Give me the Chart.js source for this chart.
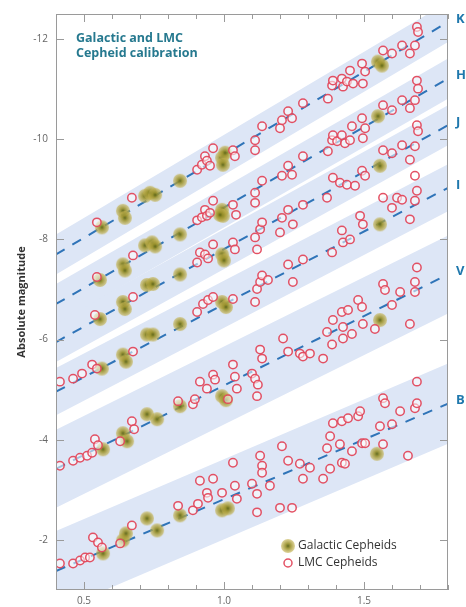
<!DOCTYPE html>
<html><head><meta charset="utf-8">
<script src="https://cdn.jsdelivr.net/npm/chart.js@4.4.1/dist/chart.umd.min.js"></script>
<style>html,body{margin:0;padding:0;background:#fff}#wrap{width:466px;height:607px}</style>
</head><body><div id="wrap"><canvas id="c" width="466" height="607"></canvas></div>
<script>
// ---- axis ranges / ticks ----
const xRange = [0.4, 1.8];
const yRange = [-12.5, -1.0];
const xMajorTicks = [0.5, 1.0, 1.5];
const xMinorTicks = [0.4,0.5,0.6,0.7,0.8,0.9,1.0,1.1,1.2,1.3,1.4,1.5,1.6,1.7,1.8];
const yTicks = [-12, -10, -8, -6, -4, -2];

// ---- bands: fitted relation at logP 0.4 and 1.8, and band half-width (mag) ----
const bandNames = ['K','H','J','I','V','B'];
const bandStartMag = [-7.70, -6.71, -5.95, -4.96, -3.42, -1.38];
const bandEndMag   = [-12.34, -11.21, -10.28, -9.03, -7.30, -4.72];
const bandHalfWidth = [0.40, 0.40, 0.40, 0.47, 0.78, 0.80];

// ---- Galactic Cepheids [logP, mag] ----
const galK = [[0.564,-8.24],[0.639,-8.57],[0.646,-8.43],[0.718,-8.87],[0.736,-8.93],[0.754,-8.89],[0.843,-9.17],[0.993,-9.63],[1.004,-9.73],[0.996,-9.49],[1.55,-11.55],[1.564,-11.47]];
const galH = [[0.557,-7.19],[0.639,-7.50],[0.646,-7.38],[0.718,-7.88],[0.743,-7.94],[0.754,-7.86],[0.843,-8.10],[0.993,-8.59],[0.996,-8.47],[0.986,-8.49],[1.55,-10.46]];
const galJ = [[0.557,-6.41],[0.639,-6.75],[0.646,-6.61],[0.725,-7.09],[0.746,-7.11],[0.843,-7.30],[0.993,-7.70],[1.0,-7.58],[1.557,-9.47]];
const galI = [[0.564,-5.42],[0.639,-5.70],[0.65,-5.56],[0.725,-6.10],[0.746,-6.10],[0.843,-6.31],[0.993,-6.75],[1.007,-6.65],[1.557,-8.30]];
const galV = [[0.568,-3.81],[0.639,-4.13],[0.654,-3.97],[0.725,-4.51],[0.761,-4.41],[0.843,-4.67],[0.993,-4.87],[1.007,-4.79],[1.557,-6.39]];
const galB = [[0.568,-1.73],[0.639,-1.99],[0.65,-2.13],[0.725,-2.43],[0.761,-2.19],[0.843,-2.49],[0.993,-2.59],[1.014,-2.63],[1.546,-3.72]];

// ---- LMC Cepheids [logP, mag] ----
const lmcK = [[0.546,-8.34],[0.671,-8.83],[0.904,-9.39],[0.921,-9.49],[0.932,-9.66],[0.939,-9.57],[0.961,-9.82],[0.95,-9.47],[1.032,-9.78],[1.039,-9.66],[1.111,-9.98],[1.111,-9.78],[1.136,-10.26],[1.20,-10.22],[1.207,-10.38],[1.229,-10.56],[1.243,-10.42],[1.282,-10.72],[1.371,-10.81],[1.386,-11.07],[1.389,-11.17],[1.421,-11.21],[1.425,-11.05],[1.439,-11.15],[1.45,-11.37],[1.461,-11.11],[1.493,-11.51],[1.496,-11.11],[1.504,-11.35],[1.568,-11.77],[1.60,-11.71],[1.636,-11.87],[1.664,-11.71],[1.682,-11.87],[1.689,-12.24],[1.693,-12.14]];
const lmcH = [[0.546,-7.25],[0.675,-7.68],[0.904,-8.38],[0.921,-8.44],[0.932,-8.59],[0.939,-8.47],[0.961,-8.77],[0.95,-8.53],[1.032,-8.69],[1.043,-8.49],[1.111,-8.93],[1.111,-8.73],[1.136,-9.17],[1.207,-9.27],[1.229,-9.47],[1.243,-9.29],[1.282,-9.66],[1.371,-9.76],[1.386,-9.98],[1.389,-10.08],[1.404,-9.96],[1.421,-10.08],[1.432,-9.92],[1.45,-9.98],[1.457,-10.26],[1.493,-10.42],[1.504,-10.22],[1.496,-10.02],[1.568,-10.68],[1.60,-10.58],[1.636,-10.78],[1.664,-10.62],[1.682,-10.78],[1.689,-11.17],[1.693,-11.01]];
const lmcJ = [[0.539,-6.49],[0.675,-6.85],[0.904,-7.54],[0.914,-7.74],[0.932,-7.70],[0.943,-7.62],[0.961,-7.90],[1.032,-7.94],[1.039,-7.80],[1.111,-8.04],[1.118,-7.80],[1.129,-8.20],[1.136,-8.34],[1.20,-8.14],[1.207,-8.43],[1.229,-8.59],[1.246,-8.30],[1.282,-8.69],[1.368,-8.83],[1.389,-9.23],[1.414,-9.13],[1.439,-9.09],[1.468,-9.07],[1.493,-9.37],[1.504,-9.27],[1.568,-9.78],[1.60,-9.72],[1.636,-9.88],[1.664,-9.59],[1.682,-9.86],[1.689,-10.28],[1.693,-10.16]];
const lmcI = [[0.414,-5.16],[0.461,-5.22],[0.493,-5.32],[0.529,-5.50],[0.546,-5.42],[0.675,-5.76],[0.904,-6.55],[0.925,-6.71],[0.943,-6.79],[0.961,-6.85],[1.032,-6.81],[1.111,-6.75],[1.118,-7.01],[1.129,-7.15],[1.136,-7.28],[1.157,-7.19],[1.229,-7.50],[1.246,-7.15],[1.282,-7.60],[1.386,-7.74],[1.425,-7.94],[1.421,-8.18],[1.45,-8.00],[1.486,-8.47],[1.496,-8.30],[1.568,-8.83],[1.60,-8.63],[1.618,-8.83],[1.636,-8.79],[1.664,-8.40],[1.682,-8.77],[1.682,-9.27],[1.689,-8.97]];
const lmcV = [[0.414,-3.48],[0.461,-3.58],[0.486,-3.64],[0.511,-3.68],[0.529,-3.74],[0.539,-4.01],[0.55,-3.89],[0.629,-3.97],[0.671,-4.37],[0.679,-4.21],[0.836,-4.77],[0.889,-4.71],[0.896,-4.81],[0.914,-5.16],[0.939,-5.02],[0.961,-5.30],[0.968,-5.20],[1.014,-4.81],[1.046,-5.02],[1.032,-5.50],[1.039,-5.26],[1.10,-5.32],[1.111,-5.22],[1.121,-5.10],[1.118,-4.87],[1.129,-5.80],[1.136,-5.62],[1.211,-6.02],[1.229,-5.76],[1.271,-5.72],[1.282,-5.66],[1.307,-5.72],[1.354,-5.62],[1.368,-6.15],[1.389,-6.39],[1.421,-6.55],[1.443,-6.59],[1.479,-6.79],[1.493,-6.65],[1.425,-6.25],[1.457,-6.11],[1.386,-5.90],[1.425,-6.02],[1.496,-6.31],[1.539,-6.21],[1.568,-7.11],[1.575,-6.99],[1.60,-6.69],[1.629,-6.95],[1.664,-6.31],[1.689,-7.44],[1.682,-7.15],[1.682,-6.95]];
const lmcB = [[0.414,-1.53],[0.461,-1.53],[0.486,-1.59],[0.504,-1.65],[0.521,-1.65],[0.532,-2.05],[0.55,-1.95],[0.564,-1.85],[0.629,-1.93],[0.671,-2.29],[0.836,-2.68],[0.889,-2.59],[0.907,-2.72],[0.914,-3.18],[0.939,-2.94],[0.943,-2.84],[0.961,-3.22],[0.993,-2.94],[1.032,-3.54],[1.039,-3.08],[1.046,-2.82],[1.10,-3.12],[1.118,-2.92],[1.118,-2.55],[1.129,-3.68],[1.136,-3.48],[1.136,-3.34],[1.164,-3.08],[1.207,-3.87],[1.229,-3.58],[1.20,-2.64],[1.243,-2.64],[1.271,-3.52],[1.307,-3.44],[1.282,-3.22],[1.354,-3.22],[1.379,-3.42],[1.368,-3.83],[1.379,-4.07],[1.389,-4.33],[1.421,-4.37],[1.443,-4.43],[1.479,-4.47],[1.486,-4.57],[1.414,-3.91],[1.421,-3.54],[1.432,-3.52],[1.457,-3.77],[1.493,-3.93],[1.504,-3.93],[1.557,-4.27],[1.568,-4.83],[1.575,-4.73],[1.568,-3.91],[1.60,-4.31],[1.629,-4.57],[1.657,-3.68],[1.682,-4.63],[1.689,-4.73],[1.689,-5.16]];

const galactic = [galK, galH, galJ, galI, galV, galB];
const lmc = [lmcK, lmcH, lmcJ, lmcI, lmcV, lmcB];

// ---- styles ----
const FONT = '"Open Sans", "Noto Sans", sans-serif';
const bandColor = '#dde6f6';
const lineColor = '#2f74b8';
const labelColor = '#1f78ad';
const titleColor = '#26798f';
const lmcColor = 'rgba(226,72,92,0.95)';

function makeGalacticMarker(r){
  const s = r*2+2, c = document.createElement('canvas');
  c.width = s; c.height = s;
  const g = c.getContext('2d'), m = s/2;
  const grd = g.createRadialGradient(m,m,0,m,m,r);
  grd.addColorStop(0,'rgba(90,98,22,0.95)');
  grd.addColorStop(0.35,'rgba(152,144,42,0.9)');
  grd.addColorStop(1,'rgba(198,180,84,0.6)');
  g.fillStyle = grd; g.beginPath(); g.arc(m,m,r,0,Math.PI*2); g.fill();
  return c;
}
const galMarker = makeGalacticMarker(7);

const toPts = arr => arr.map(p => ({x:p[0], y:p[1]}));

const datasets = [];
lmc.forEach((arr,i) => datasets.push({
  type:'scatter', label:'LMC '+bandNames[i], data: toPts(arr), order:0,
  pointStyle:'circle', pointRadius:4.2, pointBorderWidth:1.5,
  pointBorderColor: lmcColor, pointBackgroundColor:'rgba(255,255,255,0.55)'
}));
galactic.forEach((arr,i) => datasets.push({
  type:'scatter', label:'Galactic '+bandNames[i], data: toPts(arr), order:1,
  pointStyle: galMarker, pointRadius:7
}));
bandNames.forEach((n,i) => datasets.push({
  type:'line', label:'fit '+n, order:2,
  data:[{x:xRange[0], y:bandStartMag[i]},{x:xRange[1], y:bandEndMag[i]}],
  borderColor: lineColor, borderWidth:2, borderDash:[10,9], pointRadius:0, fill:false
}));
bandNames.forEach((n,i) => {
  const hw = bandHalfWidth[i];
  datasets.push({
    type:'line', label:'band hi '+n, order:3,
    data:[{x:xRange[0], y:bandStartMag[i]-hw},{x:xRange[1], y:bandEndMag[i]-hw}],
    borderWidth:0, pointRadius:0, fill:'+1', backgroundColor: bandColor
  });
  datasets.push({
    type:'line', label:'band lo '+n, order:3,
    data:[{x:xRange[0], y:bandStartMag[i]+hw},{x:xRange[1], y:bandEndMag[i]+hw}],
    borderWidth:0, pointRadius:0, fill:false
  });
});

const deco = {
  id:'deco',
  afterDraw(chart){
    const ctx = chart.ctx, a = chart.chartArea, xs = chart.scales.x, ys = chart.scales.y;
    ctx.save();
    // frame
    ctx.strokeStyle = '#9a9a9a'; ctx.lineWidth = 1;
    ctx.strokeRect(a.left+0.5, a.top+0.5, a.right-a.left-1, a.bottom-a.top-1);
    // x ticks (bottom & top, inward)
    xMinorTicks.forEach(v => {
      const px = Math.round(xs.getPixelForValue(v))+0.5;
      const major = xMajorTicks.some(m => Math.abs(m-v)<1e-6);
      const L = major ? 8 : 5;
      ctx.beginPath();
      ctx.moveTo(px, a.bottom); ctx.lineTo(px, a.bottom-L);
      ctx.moveTo(px, a.top); ctx.lineTo(px, a.top+L);
      ctx.stroke();
    });
    // y ticks (left & right, inward)
    yTicks.forEach(v => {
      const py = Math.round(ys.getPixelForValue(v))+0.5;
      ctx.beginPath();
      ctx.moveTo(a.left, py); ctx.lineTo(a.left+8, py);
      ctx.moveTo(a.right, py); ctx.lineTo(a.right-8, py);
      ctx.stroke();
    });
    // band labels
    ctx.fillStyle = labelColor; ctx.font = 'bold 13px '+FONT;
    ctx.textAlign = 'left'; ctx.textBaseline = 'middle';
    bandNames.forEach((n,i) => {
      ctx.fillText(n, a.right+8, ys.getPixelForValue(bandEndMag[i]) - 3);
    });
    // title
    ctx.fillStyle = titleColor; ctx.font = 'bold 12.5px '+FONT;
    ctx.textBaseline = 'alphabetic';
    ctx.fillText('Galactic and LMC', a.left+20, a.top+28);
    ctx.fillText('Cepheid calibration', a.left+20, a.top+43);
    // legend
    const lx = a.left+232, ly1 = a.bottom-44, ly2 = a.bottom-27;
    ctx.drawImage(galMarker, lx - galMarker.width/2, ly1 - galMarker.height/2);
    ctx.beginPath(); ctx.arc(lx, ly2, 4, 0, Math.PI*2);
    ctx.fillStyle = '#fff'; ctx.fill();
    ctx.strokeStyle = lmcColor; ctx.lineWidth = 1.5; ctx.stroke();
    ctx.fillStyle = '#333'; ctx.font = '12px '+FONT; ctx.textBaseline = 'middle';
    ctx.fillText('Galactic Cepheids', lx+10, ly1);
    ctx.fillText('LMC Cepheids', lx+10, ly2);
    ctx.restore();
  }
};

new Chart(document.getElementById('c'), {
  data:{datasets},
  options:{
    responsive:false, animation:false, devicePixelRatio:1,
    layout:{padding:{left:0, right:18, top:10, bottom:0}},
    plugins:{legend:{display:false}, tooltip:{enabled:false}},
    scales:{
      x:{type:'linear', min:xRange[0], max:xRange[1],
        grid:{display:false, drawTicks:false}, border:{display:false},
        afterBuildTicks: s => { s.ticks = xMajorTicks.map(v => ({value:v})); },
        afterFit: s => { s.height = 17; },
        ticks:{autoSkip:false, maxRotation:0, padding:5, color:'#666',
          font:{size:10, family:FONT}, callback: v => Number(v).toFixed(1)}
      },
      y:{type:'linear', reverse:true, min:yRange[0], max:yRange[1],
        grid:{display:false, drawTicks:false}, border:{display:false},
        afterBuildTicks: s => { s.ticks = yTicks.map(v => ({value:v})); },
        afterFit: s => { s.width = 56; },
        ticks:{padding:8, color:'#666', font:{size:10, family:FONT},
          callback: v => String(v)},
        title:{display:true, text:'Absolute magnitude', color:'#333',
          font:{size:11, weight:'bold', family:FONT}, padding:{top:15, bottom:0}}
      }
    }
  },
  plugins:[deco]
});
</script></body></html>
